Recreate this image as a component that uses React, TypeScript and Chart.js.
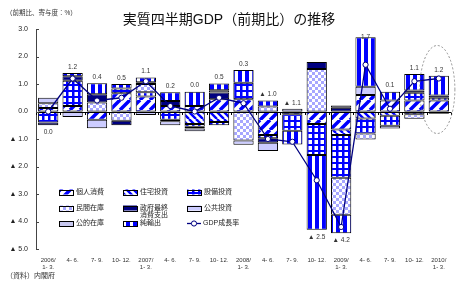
import React, { useEffect, useRef } from 'react';
import { Chart, registerables } from 'chart.js';

Chart.register(...registerables);

// ---------- data ----------
const categories: string[][] = [
  ['2006/', '1- 3.'], ['4- 6.'], ['7- 9.'], ['10- 12.'],
  ['2007/', '1- 3.'], ['4- 6.'], ['7- 9.'], ['10- 12.'],
  ['2008/', '1- 3.'], ['4- 6.'], ['7- 9.'], ['10- 12.'],
  ['2009/', '1- 3.'], ['4- 6.'], ['7- 9.'], ['10- 12.'],
  ['2010/', '1- 3.'],
];

const gdpGrowth = [0.0, 1.2, 0.4, 0.5, 1.1, 0.2, 0.0, 0.5, 0.3, -1.0, -1.1, -2.5, -4.2, 1.7, 0.1, 1.1, 1.2];

const privateConsumption = [0.13, 0.2, -0.3, 0.66, 0.55, 0.2, 0.2, 0.45, 0.45, -0.85, -0.1, -0.45, -0.65, 0.6, 0.4, 0.4, 0.4];
const housingInvestment = [0, 0, 0, 0, 0, 0, -0.45, -0.38, 0, 0, 0, 0, -0.2, -0.25, -0.15, -0.1, 0];
const businessInvestment = [-0.4, 0.92, 0, 0.18, 0.15, -0.3, -0.1, -0.12, 0.6, -0.12, -0.6, -1.13, -1.56, -0.55, -0.37, 0.28, 0.1];
const privateInventory = [0.17, 0, 0.33, -0.34, 0.3, -0.05, -0.07, 0, -1.05, 0.18, 0, 1.55, -1.34, -0.22, 0, -0.16, 0];
const governmentConsumption = [-0.1, 0.16, 0.3, -0.16, 0.06, 0.18, 0, 0.24, 0, -0.17, 0, 0.25, 0.14, 0, 0, 0.08, 0.08];
const publicInvestment = [0.2, -0.2, -0.31, 0, -0.13, -0.15, -0.1, 0, -0.16, -0.3, 0.1, 0, 0.08, 0.3, -0.1, 0, -0.08];
const publicInventory = [0, 0, 0, 0, 0, 0, 0, 0.08, 0, 0, 0, 0, 0, 0, 0, 0, 0];
const netExports = [0, 0.12, 0.4, 0.16, 0.18, 0.32, 0.52, 0.25, 0.46, 0.22, -0.5, -2.72, -0.68, 1.8, 0.32, 0.6, 0.72];

const seriesNames = ['個人消費', '住宅投資', '設備投資', '民間在庫', '政府最終消費支出', '公共投資', '公的在庫', '純輸出'];
const lineName = 'GDP成長率';
const labelBelowIdx = [0, 11, 12];
const highlightIdx = 16;

const titleText = '実質四半期GDP（前期比）の推移';
const unitText = '（前期比、寄与度：%）';
const sourceText = '（資料）内閣府';

// ---------- styles ----------
const FONT = "'Liberation Sans', 'Noto Sans CJK JP', sans-serif";
const BLUE = '#0000ff';
const NAVY = '#000080';
const LAV = '#ccccff';

function tile(w: number, h: number, fn: (g: CanvasRenderingContext2D) => void): CanvasPattern {
  const c = document.createElement('canvas');
  c.width = w;
  c.height = h;
  const g = c.getContext('2d')!;
  g.fillStyle = '#fff';
  g.fillRect(0, 0, w, h);
  fn(g);
  return g.createPattern(c, 'repeat')!;
}

function makeFills(): (string | CanvasPattern)[] {
  const diagUp = tile(10, 10, (g) => {
    g.strokeStyle = BLUE;
    g.lineWidth = 3.5;
    g.beginPath();
    for (let k = -10; k <= 20; k += 10) {
      g.moveTo(k, 10);
      g.lineTo(k + 10, 0);
    }
    g.stroke();
  });
  const diagDown = tile(7, 7, (g) => {
    g.strokeStyle = BLUE;
    g.lineWidth = 2.4;
    g.beginPath();
    for (let k = -7; k <= 14; k += 7) {
      g.moveTo(k, 0);
      g.lineTo(k + 7, 7);
    }
    g.stroke();
  });
  const grid = tile(6, 6, (g) => {
    g.fillStyle = BLUE;
    g.fillRect(0, 0, 2.5, 6);
    g.fillRect(0, 0, 6, 2);
  });
  const checker = tile(6, 6, (g) => {
    g.fillStyle = '#a6a6ff';
    g.fillRect(0, 0, 3, 3);
    g.fillRect(3, 3, 3, 3);
  });
  const vStripes = tile(7, 2, (g) => {
    g.fillStyle = BLUE;
    g.fillRect(0, 0, 4, 2);
  });
  return [diagUp, diagDown, grid, checker, NAVY, LAV, '#c8c8f0', vStripes];
}

const fmt = (v: number) => (v < 0 ? '▲ ' + Math.abs(v).toFixed(1) : v.toFixed(1));

export default function App() {
  const ref = useRef<HTMLCanvasElement>(null);

  useEffect(() => {
    const canvas = ref.current!;
    const fills = makeFills();
    const components = [
      privateConsumption, housingInvestment, businessInvestment, privateInventory,
      governmentConsumption, publicInvestment, publicInventory, netExports,
    ];

    const barSets = components.map((arr, i) => ({
      type: 'bar' as const,
      label: seriesNames[i],
      data: arr.map((v) => (v === 0 ? null : v)),
      backgroundColor: fills[i],
      borderColor: '#000',
      borderWidth: 1,
      borderSkipped: false as const,
      barPercentage: 0.83,
      categoryPercentage: 1,
      order: 1,
    }));

    const lineSet = {
      type: 'line' as const,
      label: lineName,
      data: gdpGrowth,
      stack: 'gdp',
      borderColor: NAVY,
      borderWidth: 1.3,
      pointRadius: 2.6,
      pointBackgroundColor: '#fff',
      pointBorderColor: NAVY,
      pointBorderWidth: 1,
      order: 0,
      tension: 0,
    };

    const decor = {
      id: 'decor',
      beforeDraw(chart: any) {
        const c = chart.ctx;
        c.save();
        c.fillStyle = '#fff';
        c.fillRect(0, 0, chart.width, chart.height);
        c.restore();
      },
      beforeDatasetDraw(chart: any, args: any) {
        if (args.index !== components.length) return;
        const c = chart.ctx;
        const { left, right } = chart.chartArea;
        const y0 = Math.round(chart.scales.y.getPixelForValue(0)) + 0.5;
        const xs = chart.scales.x;
        c.save();
        c.strokeStyle = '#000';
        c.lineWidth = 1;
        c.beginPath();
        c.moveTo(left, y0);
        c.lineTo(right, y0);
        const n = categories.length;
        for (let i = 0; i <= n; i++) {
          const x = Math.round(left + ((right - left) * i) / n) + 0.5;
          c.moveTo(x, y0);
          c.lineTo(x, y0 + 2.5);
        }
        c.stroke();
        c.restore();
        void xs;
      },
      afterDraw(chart: any) {
        const c = chart.ctx;
        const ys = chart.scales.y;
        const xs = chart.scales.x;
        const area = chart.chartArea;
        c.save();

        // inward y tick marks
        c.strokeStyle = '#444';
        c.lineWidth = 1;
        c.beginPath();
        for (let v = -5; v <= 3; v++) {
          const y = Math.round(ys.getPixelForValue(v)) + 0.5;
          c.moveTo(area.left, y);
          c.lineTo(area.left + 3, y);
        }
        c.stroke();

        // GDP value labels
        c.font = `6.5px ${FONT}`;
        c.fillStyle = '#333';
        c.textAlign = 'center';
        c.textBaseline = 'middle';
        gdpGrowth.forEach((g, i) => {
          let pos = 0;
          let neg = 0;
          components.forEach((arr) => {
            if (arr[i] > 0) pos += arr[i];
            else neg += arr[i];
          });
          const x = xs.getPixelForValue(i);
          let y;
          if (labelBelowIdx.includes(i)) {
            y = ys.getPixelForValue(neg) + 7;
          } else {
            y = Math.max(ys.getPixelForValue(pos) - 6, area.top + 8);
          }
          c.fillText(fmt(g), x, y);
        });

        // dashed ellipse around latest quarter
        const cx = xs.getPixelForValue(highlightIdx) - 1.5;
        const rx = (xs.getPixelForValue(1) - xs.getPixelForValue(0)) * 0.72;
        const cy = ys.getPixelForValue(0.8);
        const ry = ys.getPixelForValue(-0.8) - cy;
        c.strokeStyle = '#777';
        c.lineWidth = 0.8;
        c.setLineDash([2, 2]);
        c.beginPath();
        c.ellipse(cx, cy, rx, ry, 0, 0, Math.PI * 2);
        c.stroke();
        c.setLineDash([]);

        // legend
        const colX = [area.left + 23, area.left + 87, area.left + 151];
        const rowY = [area.top + 163, area.top + 179, area.top + 194.5];
        const sw = 14;
        const sh = 5;
        c.font = `7px ${FONT}`;
        c.textAlign = 'left';
        c.textBaseline = 'middle';
        c.fillStyle = '#222';
        seriesNames.forEach((name, i) => {
          const col = i % 3;
          const row = Math.floor(i / 3);
          const x = colX[col];
          const y = rowY[row];
          c.fillStyle = fills[i] as any;
          c.fillRect(x, y - sh / 2, sw, sh);
          c.strokeStyle = '#000';
          c.lineWidth = 1;
          c.strokeRect(Math.round(x) + 0.5, Math.round(y - sh / 2) + 0.5, sw, sh);
          c.fillStyle = '#222';
          if (name === '政府最終消費支出') {
            c.fillText('政府最終', x + sw + 3, y);
            c.fillText('消費支出', x + sw + 3, y + 7.5);
          } else {
            c.fillText(name, x + sw + 3, y);
          }
        });
        {
          const x = colX[2];
          const y = rowY[2];
          c.strokeStyle = NAVY;
          c.lineWidth = 1.3;
          c.beginPath();
          c.moveTo(x, y);
          c.lineTo(x + sw, y);
          c.stroke();
          c.fillStyle = '#fff';
          c.lineWidth = 1;
          c.beginPath();
          c.arc(x + sw / 2, y, 2.6, 0, Math.PI * 2);
          c.fill();
          c.stroke();
          c.fillStyle = '#222';
          c.fillText(lineName, x + sw + 2, y);
        }

        // title, unit, source
        c.fillStyle = '#111';
        c.textAlign = 'center';
        c.font = `14px ${FONT}`;
        c.fillText(titleText, 229, 20);
        c.textAlign = 'left';
        c.font = `6.5px ${FONT}`;
        c.fillStyle = '#333';
        c.fillText(unitText, 6, 13);
        c.font = `7px ${FONT}`;
        c.fillText(sourceText, 6, 276);

        c.restore();
      },
    };

    const chart = new Chart(canvas, {
      type: 'bar',
      data: {
        labels: categories,
        datasets: [...barSets, lineSet] as any,
      },
      options: {
        animation: false,
        responsive: false,
        devicePixelRatio: 1,
        layout: { padding: { top: 29, right: 5, left: 0, bottom: 0 } },
        plugins: {
          legend: { display: false },
          tooltip: { enabled: false },
          title: { display: false },
        },
        scales: {
          x: {
            stacked: true,
            offset: true,
            grid: { display: false, drawTicks: false },
            border: { display: false },
            ticks: {
              font: { size: 6, family: FONT },
              color: '#333',
              padding: 8,
              maxRotation: 0,
              autoSkip: false,
            },
            afterFit: (s: any) => {
              s.height = 33;
            },
          },
          y: {
            stacked: true,
            min: -5,
            max: 3,
            grid: { display: false, drawTicks: false },
            border: { display: true, color: '#444', width: 1 },
            ticks: {
              stepSize: 1,
              font: { size: 7, family: FONT },
              color: '#222',
              padding: 8,
              callback: (v: any) => fmt(Number(v)),
            },
            afterFit: (s: any) => {
              s.width = 36;
            },
          },
        },
      } as any,
      plugins: [decor],
    });

    return () => chart.destroy();
  }, []);

  return (
    <div style={{ position: 'absolute', left: 0, top: 0, width: 456, height: 282, background: '#fff' }}>
      <canvas ref={ref} width={456} height={282} style={{ display: 'block', width: 456, height: 282 }} />
    </div>
  );
}
